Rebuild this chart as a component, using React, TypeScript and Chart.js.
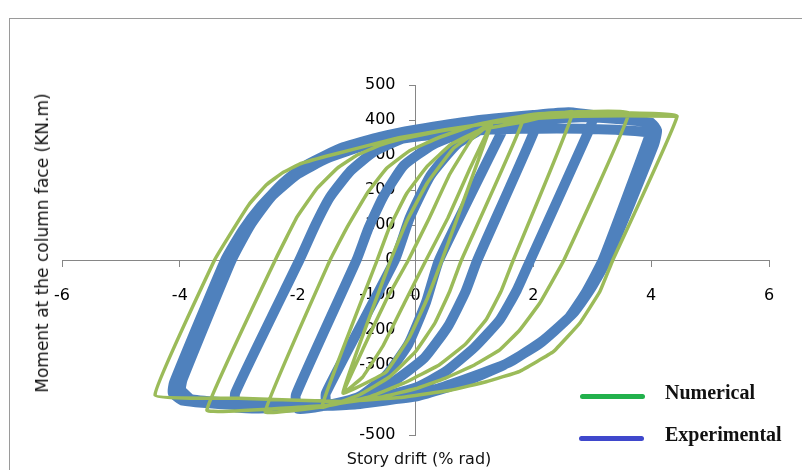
import { useEffect, useRef } from "react";
import { Chart, registerables } from "chart.js";

Chart.register(...registerables);

type Pt = [number, number];

// Axis ticks
const xTickValues = [-6, -4, -2, 0, 2, 4, 6];
const yTickValues = [-500, -400, -300, -200, -100, 0, 100, 200, 300, 400, 500];

// Numerical model: one closed cycle per drift level (drift %, moment kN.m),
// each starting at its positive peak.
const numLoop1: Pt[] = [
  [1.3, 394], [0.92, 260], [0.55, 120], [0.18, 0], [-0.18, -120], [-0.55, -245], [-0.9, -335], [-1.23, -380],
  [-0.88, -250], [-0.5, -115], [-0.12, 0], [0.22, 115], [0.58, 245], [0.95, 345], [1.3, 394],
];
const numLoop1b: Pt[] = [
  [1.3, 394], [0.45, 0], [0.2, -110], [-0.1, -220], [-0.5, -320], [-1.23, -380],
  [-0.42, 0], [-0.15, 110], [0.2, 220], [0.65, 320], [1.3, 394],
];
const numLoop2: Pt[] = [
  [1.81, 394], [0.78, 0], [0.58, -90], [0.33, -180], [0, -262], [-0.45, -335], [-0.95, -385], [-1.59, -420],
  [-0.65, 0], [-0.45, 90], [-0.15, 190], [0.2, 268], [0.6, 330], [1.1, 372], [1.81, 394],
];
const numLoop3: Pt[] = [
  [2.67, 423], [1.66, 0], [1.45, -90], [1.2, -170], [0.85, -240], [0.4, -300], [-0.2, -352], [-0.8, -392], [-1.6, -420], [-2.55, -434],
  [-1.45, 0], [-1.16, 94], [-0.82, 191], [-0.49, 262], [-0.1, 312], [0.4, 350], [1.0, 385], [1.6, 405], [2.1, 418], [2.67, 423],
];
const numLoop4: Pt[] = [
  [3.62, 420], [2.52, 0], [2.11, -123], [1.77, -200], [1.43, -257], [1.0, -300], [0.5, -338], [0, -368], [-0.6, -392], [-1.5, -415], [-2.5, -426], [-3.54, -429],
  [-2.38, 0], [-2.01, 123], [-1.67, 205], [-1.33, 262], [-0.99, 300], [-0.6, 328], [-0.26, 345], [0.4, 368], [1.3, 393], [2.2, 410], [3.0, 418], [3.62, 420],
];
const numLoop5: Pt[] = [
  [4.44, 411], [3.35, 0], [3.13, -90], [2.79, -180], [2.34, -262], [1.77, -318], [1.2, -348], [0.59, -372], [-0.26, -393], [-1.28, -404], [-3.0, -395], [-4.42, -386],
  [-3.41, 0], [-3.1, 86], [-2.82, 160], [-2.53, 215], [-2.25, 250], [-1.97, 274], [-1.5, 297], [-1.06, 316], [-0.6, 336], [-0.26, 350], [0.5, 372], [1.3, 392], [2.0, 404], [2.75, 411], [3.5, 412], [4.44, 411],
];

// Test record: measured cycles (drift %, moment kN.m)
const expLoop2: Pt[] = [
  [1.55, 395], [0.4, 0], [0.18, -120], [-0.12, -240], [-0.5, -330], [-0.95, -390], [-1.5, -415],
  [-1.52, -380], [-0.35, 0], [-0.1, 120], [0.25, 240], [0.7, 330], [1.2, 380], [1.55, 395],
];
const expLoop3: Pt[] = [
  [2.0, 400], [2.02, 370], [1.05, 0], [0.85, -90], [0.55, -190], [0.15, -280], [-0.4, -350], [-1.0, -395], [-1.6, -418], [-2.0, -425],
  [-2.03, -385], [-1.0, 0], [-0.8, 90], [-0.55, 180], [-0.2, 270], [0.3, 330], [0.9, 370], [1.5, 392], [2.0, 400],
];
const expLoop4: Pt[] = [
  [3.0, 408], [2.97, 380], [1.95, 0], [1.72, -86], [1.43, -171], [1.0, -250], [0.5, -320], [0, -365], [-0.8, -400], [-2.0, -420], [-3.03, -422],
  [-3.06, -380], [-1.97, 0], [-1.7, 100], [-1.45, 180], [-1.1, 255], [-0.7, 310], [-0.2, 348], [0.6, 380], [1.5, 400], [2.3, 412], [3.0, 408],
];
const expLoop5: Pt[] = [
  [4.0, 392], [4.1, 370], [4.05, 330], [3.25, 0], [2.96, -86], [2.68, -152], [2.17, -229], [1.6, -292], [1.15, -322], [0.42, -365], [-0.26, -395], [-1.0, -412], [-2.0, -420], [-3.0, -415], [-3.95, -402],
  [-4.12, -380], [-4.1, -351], [-3.23, 0], [-2.93, 86], [-2.64, 151], [-2.25, 220], [-1.91, 266], [-1.57, 296], [-1.23, 322], [-0.6, 352], [0, 372], [1.0, 398], [2.0, 414], [2.6, 422], [3.3, 408], [4.0, 392],
];
// repeat cycle at the largest drift, with some strength loss
const expLoop5b: Pt[] = [
  [4.0, 392], [3.95, 345], [3.18, 0], [2.9, -90], [2.6, -165], [2.1, -240], [1.5, -300], [0.8, -350], [0, -390], [-1.2, -410], [-2.6, -412], [-3.8, -398],
  [-3.98, -370], [-3.95, -340], [-3.12, 0], [-2.8, 100], [-2.45, 180], [-2.0, 245], [-1.5, 290], [-0.8, 330], [0, 352], [1.2, 372], [2.4, 376], [3.4, 372], [3.92, 366],
];

const numericalPath = [numLoop1, numLoop1b, numLoop2, numLoop3, numLoop4, numLoop5];
const experimentalPath = [expLoop2, expLoop3, expLoop4, expLoop5, expLoop5b];

const GREEN = "#9bbb59";
const BLUE = "#4f81bd";
const AXIS_GRAY = "#868686";
const TICK_FONT = '"DejaVu Sans", sans-serif';

const toXY = (loops: Pt[][]) => loops.flat().map(([x, y]) => ({ x, y }));

// y tick labels sit left of the centred axis, beneath the curves
const yLabelPlugin = {
  id: "yAxisLabels",
  beforeDatasetsDraw(chart: any) {
    const { ctx, scales } = chart;
    const x0 = scales.x.getPixelForValue(0);
    ctx.save();
    ctx.font = `16px ${TICK_FONT}`;
    ctx.fillStyle = "#000";
    ctx.textAlign = "right";
    ctx.textBaseline = "middle";
    for (const v of yTickValues) {
      ctx.fillText(String(v), x0 - 20, scales.y.getPixelForValue(v));
    }
    ctx.restore();
  },
};

export default function App() {
  const canvasRef = useRef<HTMLCanvasElement | null>(null);

  useEffect(() => {
    if (!canvasRef.current) return;
    const chart = new Chart(canvasRef.current, {
      type: "scatter",
      data: {
        datasets: [
          {
            label: "Numerical",
            data: toXY(numericalPath),
            showLine: true,
            borderColor: GREEN,
            backgroundColor: GREEN,
            borderWidth: 3.5,
            pointRadius: 0,
            tension: 0.08,
            borderJoinStyle: "round",
            borderCapStyle: "round",
          },
          {
            label: "Experimental",
            data: toXY(experimentalPath),
            showLine: true,
            borderColor: BLUE,
            backgroundColor: BLUE,
            borderWidth: 10,
            pointRadius: 0,
            tension: 0.15,
            borderJoinStyle: "round",
            borderCapStyle: "round",
          },
        ],
      },
      options: {
        responsive: false,
        animation: false,
        devicePixelRatio: 1,
        layout: { padding: { left: 62, right: 33, top: 85, bottom: 35 } },
        plugins: { legend: { display: false }, tooltip: { enabled: false } },
        scales: {
          x: {
            type: "linear",
            position: { y: 0 },
            min: -6,
            max: 6,
            afterFit: (s: any) => { s.height = 0; },
            afterBuildTicks: (s: any) => { s.ticks = xTickValues.map((v) => ({ value: v })); },
            ticks: { padding: 20, color: "#000", font: { family: TICK_FONT, size: 16 } },
            grid: { drawOnChartArea: false, drawTicks: true, tickLength: 6, color: AXIS_GRAY },
            border: { display: true, color: AXIS_GRAY, width: 1 },
          },
          y: {
            type: "linear",
            position: { x: 0 },
            min: -500,
            max: 500,
            afterFit: (s: any) => { s.width = 0; },
            afterBuildTicks: (s: any) => { s.ticks = yTickValues.map((v) => ({ value: v })); },
            ticks: { display: false },
            grid: { drawOnChartArea: false, drawTicks: true, tickLength: 6, color: AXIS_GRAY },
            border: { display: true, color: AXIS_GRAY, width: 1 },
          },
        },
      },
      plugins: [yLabelPlugin],
    });
    return () => chart.destroy();
  }, []);

  return (
    <div style={{ position: "fixed", left: 0, top: 0, width: 802, height: 470, background: "#fff", overflow: "hidden" }}>
      <div style={{ position: "absolute", left: 9, top: 18, width: 900, height: 600, borderLeft: "1px solid #9a9a9a", borderTop: "1px solid #9a9a9a" }} />
      <canvas ref={canvasRef} width={802} height={470} style={{ position: "absolute", left: 0, top: 0 }} />
      <div
        style={{
          position: "absolute", left: 42, top: 243, transform: "translate(-50%, -50%) rotate(-90deg)",
          whiteSpace: "nowrap", font: `17px ${TICK_FONT}`, color: "#111",
        }}
      >
        Moment at the column face (KN.m)
      </div>
      <div
        style={{
          position: "absolute", left: 419, top: 458, transform: "translate(-50%, -50%)",
          whiteSpace: "nowrap", font: `16px ${TICK_FONT}`, color: "#111",
        }}
      >
        Story drift (% rad)
      </div>
      <div style={{ position: "absolute", left: 580, top: 394, width: 65, height: 5, borderRadius: 3, background: "#22b14c" }} />
      <div style={{ position: "absolute", left: 579, top: 436, width: 65, height: 5, borderRadius: 3, background: "#3f48cc" }} />
      <div style={{ position: "absolute", left: 665, top: 381, lineHeight: "24px", font: 'bold 20px "Liberation Serif", serif', color: "#111", whiteSpace: "nowrap" }}>
        Numerical
      </div>
      <div style={{ position: "absolute", left: 665, top: 423, lineHeight: "24px", font: 'bold 20px "Liberation Serif", serif', color: "#111", whiteSpace: "nowrap" }}>
        Experimental
      </div>
    </div>
  );
}
